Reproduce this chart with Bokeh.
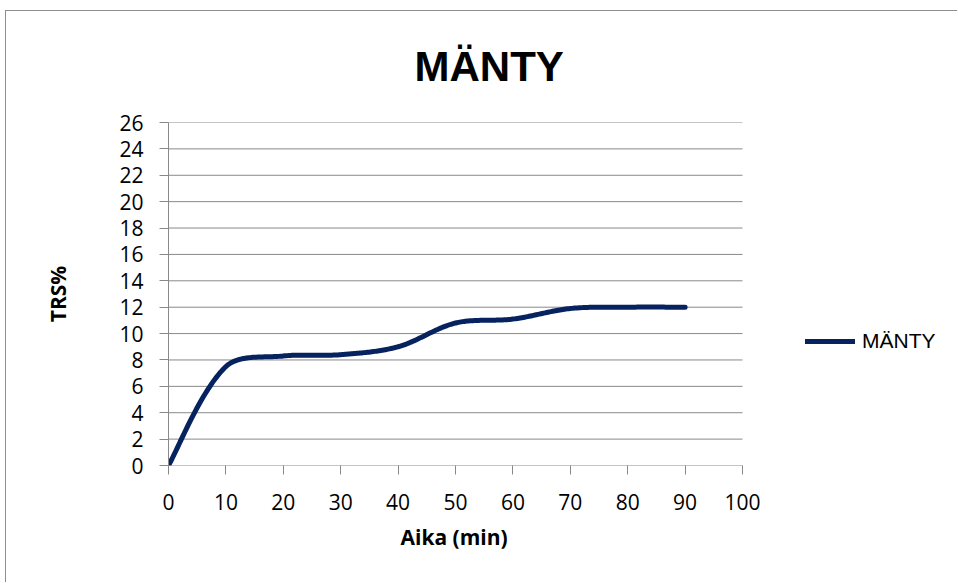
import numpy as np
from bokeh.plotting import figure
from bokeh.models import Range1d, FixedTicker, Legend, LegendItem, Title
from bokeh.embed import file_html
from bokeh.resources import INLINE

# Pine (MÄNTY) TRS% over time
time_min = [0, 10, 20, 30, 40, 50, 60, 70, 80, 90]
trs_pct = [0, 7.5, 8.3, 8.4, 9.0, 10.8, 11.1, 11.9, 12.0, 12.0]
x_ticks = [0, 10, 20, 30, 40, 50, 60, 70, 80, 90, 100]
y_ticks = [0, 2, 4, 6, 8, 10, 12, 14, 16, 18, 20, 22, 24, 26]

TICK_FONT = "Open Sans"
HEAD_FONT = "Liberation Sans"
GRID = "#898989"
LINE = "#06225f"

# canvas / plotting-area geometry (pixels)
CANVAS_W, CANVAS_H = 952, 572
LEFT, TOP, BOTTOM = 162, 111, 118
AXIS_W = 574              # pixels spanned by 0..100 min
FRAME_W = CANVAS_W - LEFT
FRAME_H = CANVAS_H - TOP - BOTTOM
X_MAX, Y_MAX = 100, 26
x_end = X_MAX * FRAME_W / AXIS_W   # room on the right for the legend
sx_scale = AXIS_W / X_MAX
sy_scale = FRAME_H / Y_MAX


def smoothed(xs, ys, steps=40):
    """Bezier smoothing through every point, tangents weighted by on-screen chord length."""
    px = np.asarray(xs, float) * sx_scale
    py = np.asarray(ys, float) * sy_scale
    n = len(px)
    pts = np.column_stack([px, py])
    seg = np.hypot(np.diff(px), np.diff(py))
    out = []
    t = np.linspace(0, 1, steps)[:, None]
    for i in range(n - 1):
        p0, p1 = pts[i], pts[i + 1]
        # forward control point from p0
        if i == 0:
            c1 = p0 + (p1 - p0) / 3 * 0.5
        else:
            d = pts[i + 1] - pts[i - 1]
            c1 = p0 + d * seg[i] / (seg[i - 1] + seg[i]) / 3
        # backward control point into p1
        if i == n - 2:
            c2 = p1 - (p1 - p0) / 3 * 0.5
        else:
            d = pts[i + 2] - pts[i]
            c2 = p1 - d * seg[i] / (seg[i] + seg[i + 1]) / 3
        b = ((1 - t) ** 3) * p0 + 3 * ((1 - t) ** 2) * t * c1 + 3 * (1 - t) * t ** 2 * c2 + t ** 3 * p1
        out.append(b if i == 0 else b[1:])
    out = np.vstack(out)
    return list(out[:, 0] / sx_scale), list(out[:, 1] / sy_scale)


p = figure(
    width=CANVAS_W, height=CANVAS_H,
    x_range=Range1d(0, x_end), y_range=Range1d(0, Y_MAX),
    output_backend="svg", toolbar_location=None,
    min_border_left=LEFT, min_border_right=0,
    min_border_top=TOP, min_border_bottom=BOTTOM,
    background_fill_color="white", border_fill_color="white",
)
p.styles = {
    "border-left": "1px solid #8e8e8e",
    "border-top": "1px solid #8e8e8e",
    "margin-left": "5px",
    "margin-top": "10px",
}
p.outline_line_color = None

p.title = Title(text="MÄNTY", align="left", vertical_align="top", offset=246, standoff=62,
                text_font=HEAD_FONT, text_font_size="42px", text_font_style="bold",
                text_color="black")

# horizontal gridlines across the 0..100 min span
p.segment(x0=[0] * len(y_ticks), x1=[X_MAX] * len(y_ticks), y0=y_ticks, y1=y_ticks,
          line_color=GRID, line_width=1)

sx, sy = smoothed(time_min, trs_pct)
r = p.line(sx, sy, line_color=LINE, line_width=5, line_cap="round", line_join="round")

# axes
p.xaxis.ticker = FixedTicker(ticks=x_ticks)
p.yaxis.ticker = FixedTicker(ticks=y_ticks)
for ax in (p.xaxis[0], p.yaxis[0]):
    ax.axis_line_color = GRID
    ax.major_tick_line_color = GRID
    ax.major_tick_out = 9
    ax.major_tick_in = 0
    ax.minor_tick_line_color = None
    ax.major_label_text_font = TICK_FONT
    ax.major_label_text_font_size = "21px"
    ax.major_label_text_color = "black"
    ax.axis_label_text_font = TICK_FONT
    ax.axis_label_text_font_size = "21px"
    ax.axis_label_text_font_style = "bold"
    ax.axis_label_text_color = "black"
p.xaxis.axis_line_color = None

p.yaxis.axis_label = "TRS%"
p.xaxis.major_label_standoff = 19
p.yaxis.major_label_standoff = 16
p.yaxis.axis_label_standoff = 44

# x-axis title, placed under the 0..100 span
p.add_layout(Title(text="Aika (min)", align="left", offset=232, standoff=16,
                   text_font=TICK_FONT, text_font_size="21px", text_font_style="bold",
                   text_color="black"), "below")

p.xgrid.grid_line_color = None
p.ygrid.grid_line_color = None

legend = Legend(items=[LegendItem(label="MÄNTY", renderers=[r])],
                location=(637, 112), orientation="vertical",
                border_line_color=None, background_fill_alpha=0,
                padding=0, margin=0, glyph_width=50, glyph_height=20,
                label_standoff=7, label_height=20, label_text_font=HEAD_FONT,
                label_text_font_size="21px", label_text_color="black")
p.add_layout(legend)

open("out.html", "w").write(file_html(p, INLINE))
